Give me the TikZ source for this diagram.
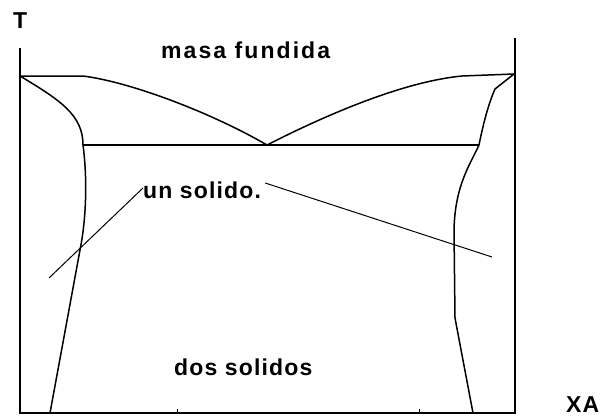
\documentclass[tikz,border=0pt]{standalone}
\usepackage{fontspec}
\setmainfont{Liberation Sans}
\newfontfamily\lblfont[LetterSpace=5]{Liberation Sans}
\newfontfamily\widefont[LetterSpace=9]{Liberation Sans}
\begin{document}
\begin{tikzpicture}[x=1pt,y=-1pt,
        axis/.style={line width=2pt},
        curve/.style={line width=1.5pt},
        pointer/.style={line width=1pt},
        lbl/.style={anchor=base west,inner sep=0pt,font=\lblfont\bfseries\fontsize{23}{23}\selectfont},
        widelbl/.style={lbl,font=\widefont\bfseries\fontsize{23}{23}\selectfont}]
                \useasboundingbox (0,0) rectangle (603,418);
                % axes
                \coordinate (top left) at (20,48);
                \coordinate (origin) at (20,413);
                \coordinate (end) at (516,413);
                \coordinate (top right) at (515,38);
                \draw [axis] (top left) -- (origin) -- (end);
                \draw [axis] (top right) -- (515,414);
                \draw [pointer] (177,413) -- (177,409) ;
                \draw [pointer] (419,413) -- (419,409) ;
                % melting points and eutectic
                \coordinate (meltA) at (20,76);
                \coordinate (meltB) at (514,74);
                \coordinate (eut) at (267,145);
                \coordinate (eutL) at (83,145);
                \coordinate (eutR) at (479,145);
                % liquidus
                \draw [curve] (meltA) -- (83,76) .. controls (130,82) and (210,112) .. (eut) ;
                \draw [curve] (eut) .. controls (320,118) and (400,82) .. (462,76) -- (meltB) ;
                % eutectic line
                \draw [curve] (eutL) -- (eutR) ;
                % solvus
                \draw [curve] (meltA) .. controls (60,100) and (83,115) .. (eutL)
                        .. controls (87,175) and (87,215) .. (80,250) -- (50,413) ;
                \draw [curve] (meltB) -- (495,89) .. controls (488,105) and (483,125) .. (eutR)
                        .. controls (470,165) and (455,185) .. (454,230) -- (455,318) -- (473,413) ;
                % labels
                \node [lbl] (T) at (13,28) {T} ;
                \node [widelbl] (melt) at (161,58) {masa fundida} ;
                \node [lbl] (one) at (143,198) {un solido.} ;
                \node [lbl] (two) at (174,375) {dos solidos} ;
                \node [lbl] (XA) at (566,412) {XA} ;
                \coordinate (p1) at (49,278);
                \coordinate (p2) at (492,257);
                \draw [pointer] (p1) -- (one.west |- 0,188) ;
                \draw [pointer] (one.east |- 0,183) ++(4,0) -- (p2) ;
            \end{tikzpicture}
\end{document}
